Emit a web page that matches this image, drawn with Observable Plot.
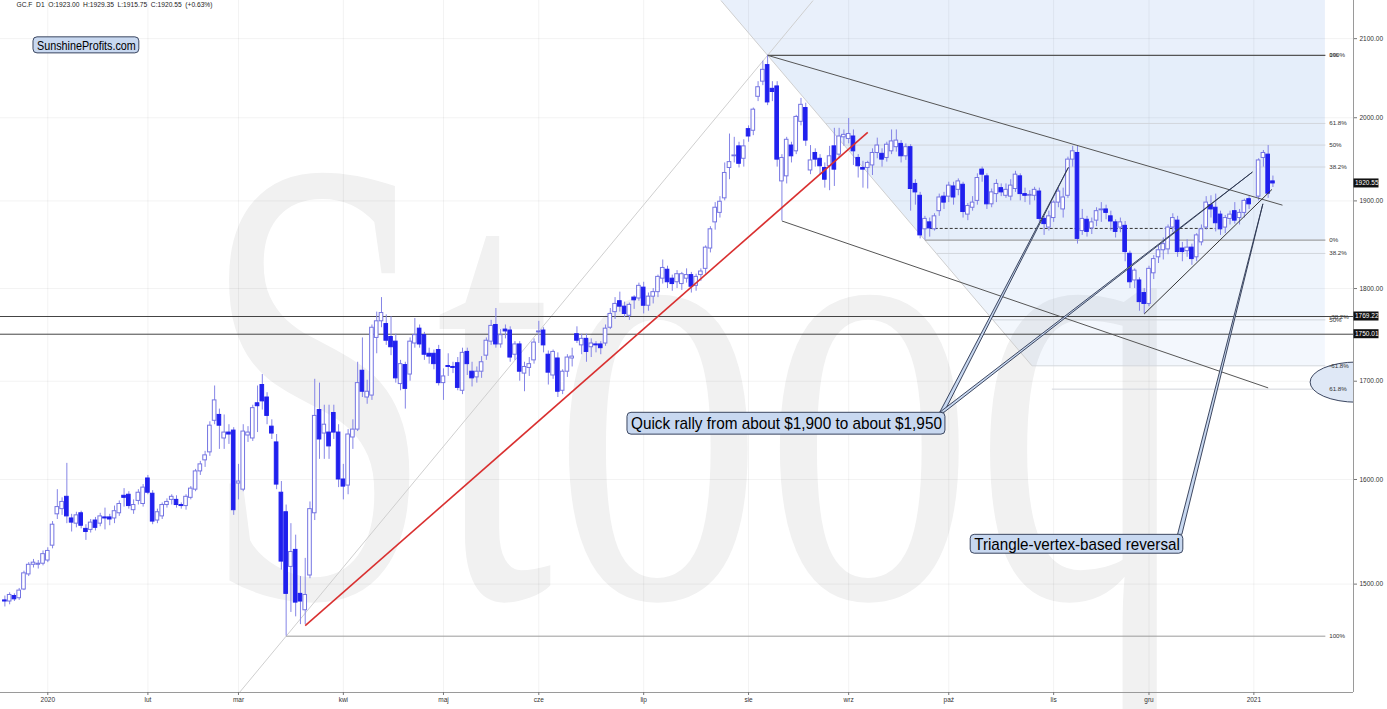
<!DOCTYPE html>
<html>
<head>
<meta charset="utf-8">
<script src="https://cdn.jsdelivr.net/npm/d3@7"></script>
<script src="https://cdn.jsdelivr.net/npm/@observablehq/plot@0.6"></script>
<style>
  html, body { margin: 0; padding: 0; background: #fff; }
  #chart { width: 1387px; height: 709px; overflow: hidden; position: relative; }
  #chart svg text { white-space: pre; }
</style>
</head>
<body>
<div id="chart"></div>
<script>
// ================= DATA =================
// daily candles [open, high, low, close], one array per month
const dec2019 = [[1485,1489,1479,1484],[1484,1492,1481,1490],[1489,1491,1484,1486],[1487,1496,1485,1494],[1495,1512,1494,1510],[1509,1520,1507,1518],[1518,1523,1515,1520],[1518,1522,1514,1519],[1519,1531,1517,1528]];
const jan2020 = [[1522,1534,1520,1531],[1536,1559,1533,1556],[1566,1590,1561,1573],[1571,1582,1565,1578],[1583,1616,1557,1564],[1562,1566,1549,1558],[1557,1568,1553,1565],[1567,1569,1552,1555],[1552,1556,1541,1549],[1551,1561,1548,1558],[1560,1563,1550,1553],[1557,1567,1554,1564],[1563,1572,1551,1562],[1563,1566,1555,1561],[1562,1574,1557,1569],[1567,1579,1564,1576],[1584,1591,1573,1582],[1585,1588,1571,1574],[1570,1580,1566,1575],[1579,1590,1575,1587],[1576,1595,1573,1592]];
const feb2020 = [[1601,1604,1585,1587],[1586,1589,1556,1559],[1560,1571,1557,1568],[1564,1577,1561,1575],[1575,1581,1572,1578],[1580,1585,1575,1583],[1580,1584,1572,1575],[1575,1577,1571,1574],[1574,1585,1570,1583],[1582,1593,1580,1591],[1590,1610,1588,1608],[1608,1618,1604,1615],[1619,1628,1612,1624],[1627,1658,1623,1654],[1659,1695,1655,1680],[1665,1671,1630,1654],[1641,1665,1630,1647],[1647,1655,1635,1645],[1649,1652,1565,1570]];
const mar2020 = [[1596,1615,1580,1598],[1590,1655,1588,1648],[1644,1653,1637,1647],[1641,1675,1638,1672],[1677,1695,1647,1674],[1696,1707,1670,1679],[1683,1688,1655,1664],[1653,1660,1640,1646],[1637,1645,1590,1595],[1587,1598,1513,1521],[1568,1575,1452.6,1491],[1516,1557,1474,1530],[1532,1546,1470,1483],[1491,1507,1463,1484],[1476,1524,1463,1490],[1508,1578,1505,1571],[1567,1702,1560,1664],[1670,1698,1620,1640],[1646,1675,1620,1655],[1647,1675,1620,1633],[1667,1675,1640,1647],[1647,1655,1592,1600]];
const apr2020 = [[1600,1615,1580,1593],[1594,1650,1585,1645],[1642,1660,1630,1650],[1650,1720,1648,1698],[1711,1746,1683,1689],[1683,1701,1676,1689],[1685,1760,1680,1757],[1746,1774,1729,1764],[1764,1790,1757,1773],[1761,1771,1738,1743],[1747,1769,1727,1736],[1742,1750,1698,1703],[1697,1722,1690,1718],[1717,1720,1671,1692],[1707,1746,1700,1742],[1740,1767,1735,1749],[1756,1760,1735,1739],[1749,1752,1722,1728],[1729,1735,1718,1726],[1729,1733,1712,1718],[1733,1738,1695,1698]];
const may2020 = [[1698,1713,1680,1705],[1716,1729,1705,1715],[1715,1720,1708,1714],[1719,1725,1690,1693],[1690,1735,1686,1730],[1731,1735,1706,1718],[1710,1720,1694,1703],[1704,1715,1698,1710],[1710,1726,1703,1720],[1727,1746,1722,1743],[1742,1765,1738,1759],[1760,1778,1735,1739],[1739,1755,1735,1749],[1755,1760,1745,1753],[1754,1758,1720,1725],[1728,1742,1722,1739],[1739,1742,1700,1710],[1708,1720,1689,1715],[1714,1725,1705,1718],[1722,1745,1718,1741]];
const jun2020 = [[1752,1764,1740,1753],[1754,1757,1730,1738],[1728,1732,1696,1709],[1706,1733,1702,1731],[1724,1730,1683,1689],[1690,1712,1686,1710],[1710,1728,1704,1725],[1724,1735,1715,1726],[1750,1758,1740,1743],[1738,1750,1728,1745],[1745,1750,1720,1731],[1736,1745,1725,1740],[1739,1742,1730,1738],[1739,1742,1728,1735],[1740,1760,1737,1756],[1757,1778,1755,1772],[1774,1790,1766,1783],[1786,1796,1774,1780],[1780,1785,1768,1772],[1770,1784,1765,1782],[1790,1792,1777,1787],[1789,1806,1786,1803]];
const jul2020 = [[1801,1807,1772,1781],[1781,1795,1775,1791],[1791,1800,1783,1796],[1796,1815,1790,1813],[1811,1832,1805,1823],[1821,1825,1800,1807],[1811,1815,1797,1805],[1807,1820,1800,1816],[1805,1818,1798,1816],[1811,1822,1806,1815],[1815,1818,1795,1802],[1803,1816,1797,1813],[1815,1822,1808,1819],[1822,1848,1816,1846],[1845,1870,1840,1867],[1875,1898,1866,1892],[1886,1905,1880,1899],[1903,1945,1900,1933],[1939,1980,1925,1946],[1953,1976,1945,1954],[1965,1970,1939,1944],[1950,1973,1940,1965]];
const aug2020 = [[1986,1990,1970,1977],[1984,2012,1978,2010],[2026,2045,2020,2038],[2045,2071,2040,2060],[2066,2078.5,2015,2019],[2036,2045,2020,2032],[2039,2045,1940,1949],[1923,1955,1876.6,1951],[1929,1976,1920,1973],[1966,1970,1945,1953],[1959,2003,1955,2001],[1995,2024,1990,2016],[2012,2018,1965,1972],[1936,1966,1931,1948],[1957,1962,1940,1949],[1950,1955,1930,1941],[1939,1945,1915,1925],[1941,1965,1912,1953],[1965,1987,1917,1937],[1955,1987,1950,1977],[1976,1985,1965,1979]];
const sep2020 = [[1974,1999,1968,1980],[1977,1985,1942,1959],[1951,1955,1927,1941],[1939,1947,1915,1937],[1939,1947,1914,1945],[1942,1962,1930,1957],[1957,1975,1950,1966],[1956,1962,1940,1949],[1951,1970,1946,1967],[1959,1985,1955,1971],[1964,1985,1958,1972],[1968,1972,1945,1953],[1953,1968,1948,1964],[1964,1967,1888,1914],[1920,1925,1895,1910],[1906,1910,1856,1860],[1867,1882,1854.6,1879],[1875,1880,1858,1868],[1867,1885,1865,1882],[1888,1908,1882,1904],[1905,1910,1890,1898]];
const oct2020 = [[1905,1922,1898,1918],[1917,1922,1895,1904],[1913,1926,1906,1923],[1919,1922,1880,1887],[1884,1897,1877,1894],[1892,1905,1888,1898],[1900,1932,1895,1927],[1937,1940,1922,1931],[1929,1932,1890,1896],[1896,1914,1892,1910],[1908,1925,1898,1920],[1915,1920,1905,1910],[1906,1920,1903,1913],[1905,1925,1900,1918],[1914,1935,1910,1931],[1929,1932,1900,1908],[1908,1915,1898,1906],[1906,1912,1895,1907],[1906,1916,1900,1913],[1911,1915,1875,1879],[1879,1882,1860,1873],[1869,1888,1865,1882]];
const nov2020 = [[1880,1900,1875,1898],[1898,1915,1892,1911],[1890,1915,1880,1904],[1906,1952,1903,1949],[1949,1965,1940,1959],[1957,1966,1850,1856],[1865,1890,1860,1879],[1878,1882,1858,1864],[1868,1880,1861,1875],[1877,1892,1870,1888],[1889,1898,1875,1890],[1890,1895,1878,1886],[1882,1888,1865,1876],[1875,1878,1857,1864],[1869,1880,1863,1875],[1871,1876,1830,1841],[1839,1842,1800,1807],[1809,1822,1800,1820],[1809,1812,1775,1785],[1795,1800,1772,1783]];
const dec2020 = [[1783,1825,1780,1822],[1817,1837,1810,1833],[1835,1848,1828,1843],[1843,1857,1832,1850],[1844,1872,1838,1869],[1869,1885,1863,1880],[1877,1882,1835,1841],[1845,1852,1830,1841],[1842,1855,1835,1846],[1846,1850,1826,1833],[1835,1862,1830,1860],[1852,1872,1848,1867],[1869,1905,1866,1898],[1895,1906,1880,1890],[1892,1908,1864,1874],[1884,1888,1860,1867],[1869,1883,1862,1880],[1879,1888,1872,1884],[1888,1898,1873,1877],[1880,1890,1872,1886],[1886,1902,1880,1900],[1902,1905,1890,1896]];
const jan2021 = [null,[1905,1950,1900,1948],[1951,1960,1940,1957],[1955,1966,1903,1908.5],[1923,1929.35,1915.75,1920.55]];

const headerText = "GC.F  D1  O:1923.00  H:1929.35  L:1915.75  C:1920.55  (+0.63%)";
const watermarkText = "Stooq";
const yTicks = [1500, 1600, 1700, 1800, 1900, 2000, 2100];
const monthTickDays = ["2020-01-02","2020-02-03","2020-03-02","2020-04-01","2020-05-01","2020-06-01","2020-07-01","2020-08-03","2020-09-01","2020-10-01","2020-11-02","2020-12-01","2021-01-01"];
const monthLabels = ["2020","lut","mar","kwi","maj","cze","lip","sie","wrz","paź","lis","gru","2021"];
const holidays = ["2019-12-25","2020-01-01","2020-01-20","2020-02-17","2020-04-10","2020-05-25","2020-07-03","2020-09-07","2020-11-26","2020-12-25"];

// Fibonacci tools
const fibA = {highDay: "2020-08-07", high: 2078.5, lowDay: "2020-09-24", low: 1854.6, end: 268};
const fibALevels = [1, 0.618, 0.5, 0.382, 0, -0.382, -0.618];
const fibALabels = ["100%", "61.8%", "50%", "38.2%", "0%", "-38.2%", "-61.8%"];
const fibB = {lowDay: "2020-03-16", low: 1452.6, highDay: "2020-08-07", high: 2078.5, end: 268};
const fibBLevels = [0, 0.382, 0.5, 0.618, 1];
const fibBLabels = ["0%", "38.2%", "50%", "61.8%", "100%"];

const hLines = [1769.22, 1750.01];
const priceTags = [1920.55, 1769.22, 1750.01];

// drawn lines: [day or session index, price]
const redLine = [["2020-03-20", 1462], ["2020-09-08", 1982]];
const upperLine = [["2020-08-07", 2078.5], [259, 1895]];
const lowerLine = [["2020-08-12", 1876.6], ["2021-01-06", 1693]];
const triangleLine = [["2020-11-30", 1772], [256.8, 1913.5]];
const dashedLine = [["2020-09-25", 1868], ["2020-12-21", 1868]];

// callout boxes and their pointers
const boxes = [
  {text: "SunshineProfits.com", i1: -3.0, i2: 19.2, p1: 2081, p2: 2101.7, size: 13},
  {text: "Quick rally from about $1,900 to about $1,950", i1: 121.6, i2: 188.3, p1: 1644.9, p2: 1667.2, size: 17},
  {text: "Triangle-vertex-based reversal", i1: 193.6, i2: 238.2, p1: 1528.4, p2: 1546.3, size: 17}
];
const pointers = [
  {base: [[187.2, 1667.2], [188.1, 1667.2]], tip: [214.2, 1939.1]},
  {base: [[187.2, 1667.2], [188.1, 1667.2]], tip: [252.8, 1933.5]},
  {base: [[237.1, 1546.3], [238.0, 1546.3]], tip: [255.0, 1896]}
];
const ellipseBox = {i1: 264.9, i2: 284.5, p1: 1677.6, p2: 1719.7};

// ================= CALENDAR =================
const fmt = d3.utcFormat("%Y-%m-%d");
const sessions = d3.utcDay.range(new Date(Date.UTC(2019, 11, 18)), new Date(Date.UTC(2021, 0, 8)))
  .filter(d => d.getUTCDay() % 6 !== 0).map(fmt).filter(s => !holidays.includes(s));
const origin = sessions.indexOf("2020-01-02");
const idx = s => typeof s === "number" ? s : sessions.indexOf(s) - origin;

const monthRows = [["2019-12", dec2019], ["2020-01", jan2020], ["2020-02", feb2020], ["2020-03", mar2020],
  ["2020-04", apr2020], ["2020-05", may2020], ["2020-06", jun2020], ["2020-07", jul2020], ["2020-08", aug2020],
  ["2020-09", sep2020], ["2020-10", oct2020], ["2020-11", nov2020], ["2020-12", dec2020], ["2021-01", jan2021]];
const candles = [];
for (const [m, rows] of monthRows) {
  const ds = sessions.filter(s => s.startsWith(m));
  rows.forEach((r, k) => {
    if (r) candles.push({day: ds[k], i: idx(ds[k]), open: r[0], high: r[1], low: r[2], close: r[3]});
  });
}

const xDomain = [-9.92, 273.9];
const yDomain = [1403, 2150];
const FONT = '"Liberation Sans Narrow", "Arial Narrow", "Liberation Sans", Arial, sans-serif';

const iAt = (a, b, p) => a.i + (b.i - a.i) * (Math.log(p) - Math.log(a.p)) / (Math.log(b.p) - Math.log(a.p));
const A1 = {i: idx(fibA.highDay), p: fibA.high}, A0 = {i: idx(fibA.lowDay), p: fibA.low};
const B0 = {i: idx(fibB.lowDay), p: fibB.low}, B1 = {i: idx(fibB.highDay), p: fibB.high};
const fibAPrice = r => fibA.low + r * (fibA.high - fibA.low);
const fibBPrice = r => fibB.high - r * (fibB.high - fibB.low);
const aBottom = fibAPrice(-0.618);

const guides = [
  {x1: iAt(A1, A0, yDomain[1]), y1: yDomain[1], x2: iAt(A1, A0, aBottom), y2: aBottom},
  {x1: iAt(B0, B1, yDomain[0]), y1: yDomain[0], x2: iAt(B0, B1, yDomain[1]), y2: yDomain[1]}
];

const bandEdges = [yDomain[1], fibA.high, fibA.low, fibAPrice(-0.382), aBottom];
const bandOpacity = [0.12, 0.14, 0.095, 0.065];
const bands = bandOpacity.map((o, k) => ({o, pts: [bandEdges[k], bandEdges[k + 1]].map(p => ({y: p, x1: iAt(A1, A0, p), x2: fibA.end}))}));

const levelLines = [];
fibALevels.forEach(r => {
  const p = fibAPrice(r);
  let start = iAt(A1, A0, p), color = "#d2d6dc", w = 1;
  if (r === 1) { start = A1.i; color = "#555"; w = 1.3; }
  if (r === 0) { start = A0.i; color = "#8a8a8a"; }
  levelLines.push({x1: start, x2: fibA.end, p, color, w});
});
fibBLevels.forEach(r => {
  if (r === 0) return;
  const p = fibBPrice(r);
  let start = iAt(A1, A0, p), color = "#d2d6dc", w = 1;
  if (r === 1) { start = B0.i; color = "#9a9a9a"; }
  levelLines.push({x1: start, x2: fibB.end, p, color, w});
});
const fibLabels = [
  ...fibALevels.map((r, k) => ({p: fibAPrice(r), t: fibALabels[k]})),
  ...fibBLevels.map((r, k) => ({p: fibBPrice(r), t: fibBLabels[k]}))
];

const seg = (a, b, extra) => ({x1: idx(a[0]), y1: a[1], x2: idx(b[0]), y2: b[1], ...extra});
const darkLines = [
  seg(upperLine[0], upperLine[1], {c: "#555", w: 1}),
  seg(lowerLine[0], lowerLine[1], {c: "#555", w: 1}),
  seg(triangleLine[0], triangleLine[1], {c: "#333", w: 1})
];

const tickIdx = monthTickDays.map(idx);
const labelOf = new Map(tickIdx.map((v, k) => [v, monthLabels[k]]));
const up = d => d.close >= d.open;

const chart = Plot.plot({
  width: 1387, height: 709,
  marginLeft: 0, marginRight: 34, marginTop: 0, marginBottom: 17,
  x: {type: "linear", domain: xDomain},
  y: {type: "log", domain: yDomain},
  style: {fontFamily: FONT, background: "#fff", overflow: "visible"},
  marks: [
    Plot.text([watermarkText], {x: 32.1, y: 1488.7, text: d => d, textAnchor: "start", lineAnchor: "bottom",
      fontSize: 640, fontFamily: '"Liberation Serif", "DejaVu Serif", serif', fill: "#f1f1f1"}),
    ...bands.map(b => Plot.areaX(b.pts, {y: "y", x1: "x1", x2: "x2", fill: "#4a86df", fillOpacity: b.o, curve: "linear"})),
    Plot.gridX(tickIdx, {stroke: "#000", strokeOpacity: 0.05}),
    Plot.gridY(yTicks, {stroke: "#000", strokeOpacity: 0.05}),
    Plot.link(guides, {x1: "x1", y1: "y1", x2: "x2", y2: "y2", stroke: "#cfcfcf", strokeWidth: 1, clip: true}),
    Plot.link(levelLines, {x1: "x1", x2: "x2", y1: "p", y2: "p", stroke: d => d.color, strokeWidth: d => d.w}),
    Plot.ruleY(hLines, {stroke: "#444", strokeWidth: 1}),
    Plot.link([seg(dashedLine[0], dashedLine[1])], {x1: "x1", y1: "y1", x2: "x2", y2: "y2", stroke: "#333", strokeDasharray: "3,2"}),
    Plot.ruleX(candles, {x: "i", y1: "low", y2: "high", stroke: "#8585e6", strokeWidth: 1}),
    Plot.rect(candles, {x1: d => d.i - 0.38, x2: d => d.i + 0.38, y1: "open", y2: "close",
      fill: d => up(d) ? "#ffffff" : "#2020ee", stroke: d => up(d) ? "#7474e2" : "#2020ee", strokeWidth: 1}),
    Plot.link([seg(redLine[0], redLine[1])], {x1: "x1", y1: "y1", x2: "x2", y2: "y2", stroke: "#d93030", strokeWidth: 1.6}),
    Plot.link(darkLines, {x1: "x1", y1: "y1", x2: "x2", y2: "y2", stroke: d => d.c, strokeWidth: d => d.w}),
    Plot.ruleX([xDomain[1]], {stroke: "#9a9a9a"}),
    Plot.ruleY([yDomain[0]], {stroke: "#9a9a9a"}),
    Plot.axisY(yTicks, {anchor: "right", tickSize: 3, tickPadding: 3, tickFormat: d => d.toFixed(2), fontSize: 6.5, fill: "#333", stroke: "#777"}),
    Plot.axisX(tickIdx, {anchor: "bottom", tickSize: 3, tickPadding: 2, tickFormat: d => labelOf.get(d), fontSize: 6.5, fill: "#333", stroke: "#777"}),
    Plot.text(fibLabels, {x: fibA.end + 0.8, y: "p", text: "t", textAnchor: "start", fontSize: 6.2, fill: "#333"}),
    Plot.rect(boxes, {x1: "i1", x2: "i2", y1: "p1", y2: "p2", fill: "#c8d8f0", stroke: "#3b4660", strokeWidth: 1, rx: 4}),
    Plot.text(boxes, {x: d => (d.i1 + d.i2) / 2, y: d => Math.sqrt(d.p1 * d.p2), text: "text", fontSize: d => d.size, fill: "#000"}),
    Plot.text([headerText], {frameAnchor: "top-left", dx: 16, dy: 2, text: d => d, textAnchor: "start", lineAnchor: "top", fontSize: 7, fill: "#222"})
  ]
});

document.getElementById("chart").appendChild(chart);

// ---- extras drawn through the plot's own scales ----
const sx = chart.scale("x"), sy = chart.scale("y");
const svg = d3.select(chart);
const X = v => sx.apply(v), Y = v => sy.apply(v);
const findText = t => svg.selectAll("text").filter(function () { return this.textContent === t; });

// condensed lettering (the reference uses a narrow face)
findText(watermarkText).attr("textLength", 985).attr("lengthAdjust", "spacingAndGlyphs");
findText(headerText).attr("textLength", 196).attr("lengthAdjust", "spacingAndGlyphs");
for (const b of boxes) {
  const w = Math.abs(X(b.i2) - X(b.i1)) - 7;
  findText(b.text).attr("textLength", w).attr("lengthAdjust", "spacingAndGlyphs");
}

// ellipse, clipped at the price axis, under the fib labels
const defs = svg.append("defs");
defs.append("clipPath").attr("id", "plotclip").append("rect")
  .attr("x", X(xDomain[0])).attr("y", Y(yDomain[1])).attr("width", X(xDomain[1]) - X(xDomain[0])).attr("height", Y(yDomain[0]) - Y(yDomain[1]));
const labelGroup = findText("-61.8%").node().parentNode;
const e = ellipseBox;
const ell = document.createElementNS("http://www.w3.org/2000/svg", "ellipse");
labelGroup.parentNode.insertBefore(ell, labelGroup);
d3.select(ell).attr("clip-path", "url(#plotclip)")
  .attr("cx", (X(e.i1) + X(e.i2)) / 2).attr("cy", Y(Math.sqrt(e.p1 * e.p2)))
  .attr("rx", Math.abs(X(e.i2) - X(e.i1)) / 2).attr("ry", Math.abs(Y(e.p1) - Y(e.p2)) / 2)
  .attr("fill", "#dfe8f6").attr("stroke", "#3b4660").attr("stroke-width", 1);

// pointers, under the callout boxes
const boxGroup = svg.selectAll("rect").filter(function () { return this.getAttribute("rx"); }).node().parentNode;
const pg = document.createElementNS("http://www.w3.org/2000/svg", "g");
boxGroup.parentNode.insertBefore(pg, boxGroup);
for (const p of pointers) {
  const [b0, b1] = p.base;
  d3.select(pg).append("path")
    .attr("d", `M${X(b0[0])},${Y(b0[1])}L${X(p.tip[0])},${Y(p.tip[1])}L${X(b1[0])},${Y(b1[1])}Z`)
    .attr("fill", "#c8d8f0").attr("stroke", "#2b3550").attr("stroke-width", 0.9);
}

// price tags on the axis
const tg = svg.append("g");
for (const v of priceTags) {
  tg.append("rect").attr("x", X(xDomain[1]) + 0.5).attr("y", Y(v) - 4.5).attr("width", 25).attr("height", 9).attr("fill", "#111");
  tg.append("text").attr("x", X(xDomain[1]) + 2).attr("y", Y(v) + 2.3).attr("fill", "#fff").attr("text-anchor", "start")
    .attr("font-size", 6.5).attr("font-family", FONT).text(v.toFixed(2));
}
</script>
</body>
</html>
